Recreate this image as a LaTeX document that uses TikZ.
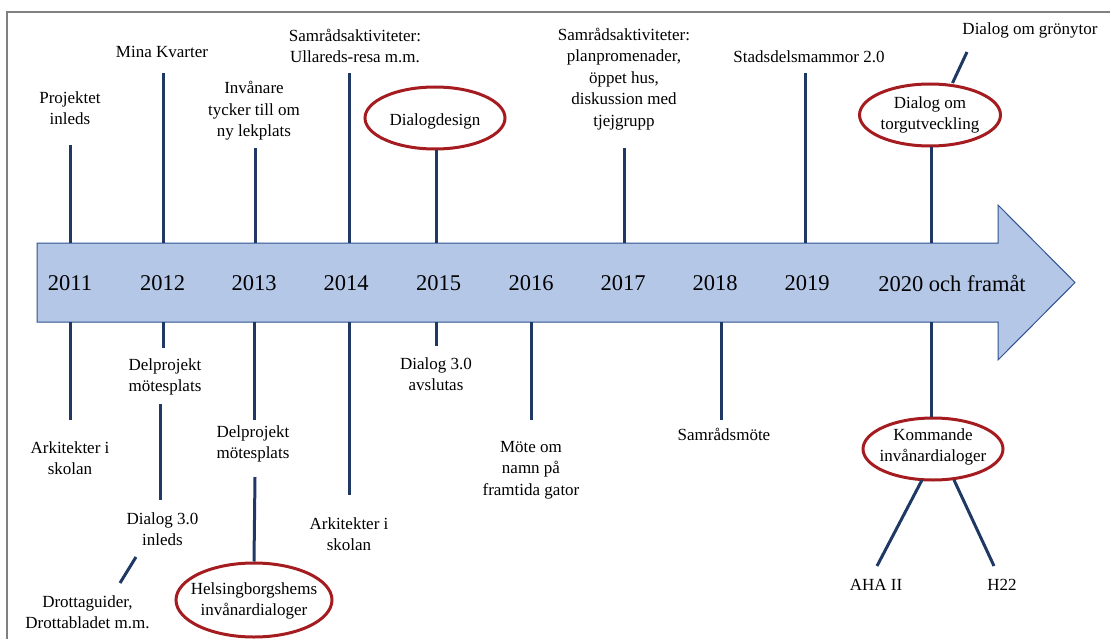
\documentclass[tikz,border=0pt]{standalone}
\usepackage{fontspec}
\setmainfont{Liberation Serif}
\usetikzlibrary{shapes.geometric}
\definecolor{navy}{RGB}{31,56,100}
\definecolor{ovalred}{RGB}{165,28,32}
\definecolor{arrowfill}{RGB}{180,199,231}
\definecolor{arrowedge}{RGB}{47,82,143}
\definecolor{framegray}{RGB}{128,128,128}
\tikzset{
  lbl/.style={align=center, font=\fontsize{17}{21.5}\selectfont, inner sep=0pt, text=black},
  yr/.style={font=\fontsize{22.5}{26}\selectfont, inner sep=0pt, text=black},
  tick/.style={draw=navy, line width=3pt},
  oval/.style={draw=ovalred, line width=3pt, ellipse, inner sep=0pt},
}
\begin{document}
\begin{tikzpicture}[x=1pt,y=-1pt]
\useasboundingbox (0,0) rectangle (1110,639);
% frame
\draw[framegray, line width=1.5pt] (7,639) -- (7,12) -- (1110,12);
% timeline arrow
\draw[fill=arrowfill, draw=arrowedge, line width=1pt]
  (37,243) -- (998,243) -- (998,205) -- (1075,282.5) -- (998,360) -- (998,322) -- (37,322) -- cycle;
% years
\node[yr] (y11) at (70,283) {2011};
\node[yr] (y12) at (162.5,283) {2012};
\node[yr] (y13) at (254,283) {2013};
\node[yr] (y14) at (346,283) {2014};
\node[yr] (y15) at (438.5,283) {2015};
\node[yr] (y16) at (531,283) {2016};
\node[yr] (y17) at (623,283) {2017};
\node[yr] (y18) at (715,283) {2018};
\node[yr] (y19) at (807,283) {2019};
\node[yr] (y20) at (952,283) {2020 och framåt};

% ---- top ----
\node[lbl] (t11) at (70,108) {Projektet\\inleds};
\coordinate (t11a) at (70,145); \coordinate (t11b) at (70,243);
\draw[tick] (t11a) -- (t11b);

\node[lbl] (t12) at (162,52) {Mina Kvarter};
\coordinate (t12a) at (163,73); \coordinate (t12b) at (163,243);
\draw[tick] (t12a) -- (t12b);

\node[lbl] (t13) at (254,111) {Invånare\\tycker till om\\ny lekplats};
\coordinate (t13a) at (255,148); \coordinate (t13b) at (255,243);
\draw[tick] (t13a) -- (t13b);

\node[lbl] (t14) at (355,46) {Samrådsaktiviteter:\\Ullareds-resa m.m.};
\coordinate (t14a) at (349,73); \coordinate (t14b) at (349,243);
\draw[tick] (t14a) -- (t14b);

\node[oval, minimum width=140pt, minimum height=62pt] (e15) at (435,118) {};
\node[lbl] (t15) at (435,121) {Dialogdesign};
\coordinate (t15b) at (436,243);
\draw[tick] (e15.south -| t15b) -- (t15b);

\node[lbl] (t17) at (624,79) {Samrådsaktiviteter:\\planpromenader,\\öppet hus,\\diskussion med\\tjejgrupp};
\coordinate (t17a) at (624,148); \coordinate (t17b) at (624,243);
\draw[tick] (t17a) -- (t17b);

\node[lbl] (t19) at (809,57) {Stadsdelsmammor 2.0};
\coordinate (t19a) at (805,73); \coordinate (t19b) at (805,243);
\draw[tick] (t19a) -- (t19b);

\node[oval, minimum width=141pt, minimum height=62pt] (e20) at (930,115) {};
\node[lbl] (t20) at (930,115) {Dialog om\\torgutveckling};
\coordinate (t20b) at (931,243);
\draw[tick] (e20.south -| t20b) -- (t20b);

\node[lbl] (t20g) at (1030,30) {Dialog om grönytor};
\coordinate (t20ga) at (952.5,83); \coordinate (t20gb) at (967,52);
\draw[tick] (t20ga) -- (t20gb);

% ---- bottom ----
\coordinate (b11a) at (70,322); \coordinate (b11b) at (70,420);
\draw[tick] (b11a) -- (b11b);
\node[lbl] (b11) at (70,458) {Arkitekter i\\skolan};

\coordinate (b12a) at (163,322); \coordinate (b12b) at (163,348);
\draw[tick] (b12a) -- (b12b);
\node[lbl] (b12) at (165,377) {Delprojekt\\mötesplats};
\coordinate (b12c) at (160,404); \coordinate (b12d) at (160,500);
\draw[tick] (b12c) -- (b12d);
\node[lbl] (b12e) at (162.5,529) {Dialog 3.0\\inleds};
\coordinate (b12f) at (136,557); \coordinate (b12g) at (120,583);
\draw[tick] (b12f) -- (b12g);
\node[lbl] (b12h) at (87.5,612) {Drottaguider,\\Drottabladet m.m.};

\coordinate (b13a) at (254,322); \coordinate (b13b) at (254,420);
\draw[tick] (b13a) -- (b13b);
\node[lbl] (b13) at (253,444) {Delprojekt\\mötesplats};
\coordinate (b13c) at (255,477);
\node[oval, minimum width=156pt, minimum height=74pt] (e13) at (254,600) {};
\node[lbl] (b13e) at (254,601) {Helsingborgshems\\invånardialoger};
\draw[tick] (b13c) -- (e13.north);

\coordinate (b14a) at (349,322); \coordinate (b14b) at (349,495);
\draw[tick] (b14a) -- (b14b);
\node[lbl] (b14) at (349,534) {Arkitekter i\\skolan};

\coordinate (b15a) at (436,322); \coordinate (b15b) at (436,346);
\draw[tick] (b15a) -- (b15b);
\node[lbl] (b15) at (436,374) {Dialog 3.0\\avslutas};

\coordinate (b16a) at (531,322); \coordinate (b16b) at (531,420);
\draw[tick] (b16a) -- (b16b);
\node[lbl] (b16) at (531,470) {Möte om\\namn på\\framtida gator};

\coordinate (b18a) at (721,322); \coordinate (b18b) at (721,420);
\draw[tick] (b18a) -- (b18b);
\node[lbl] (b18) at (724,434) {Samrådsmöte};

\coordinate (b20a) at (931,322);
\node[oval, minimum width=140pt, minimum height=62pt] (e20b) at (933,449) {};
\node[lbl] (b20) at (933,447) {Kommande\\invånardialoger};
\draw[tick] (b20a) -- (e20b.north -| b20a);
\node[lbl] (aha) at (876,585) {AHA II};
\node[lbl] (h22) at (1002,585) {H22};
\coordinate (ahaa) at (922,480); \coordinate (ahab) at (877,566);
\coordinate (h22a) at (954,480); \coordinate (h22b) at (994,566);
\draw[tick] (ahaa) -- (ahab);
\draw[tick] (h22a) -- (h22b);
\end{tikzpicture}
\end{document}
